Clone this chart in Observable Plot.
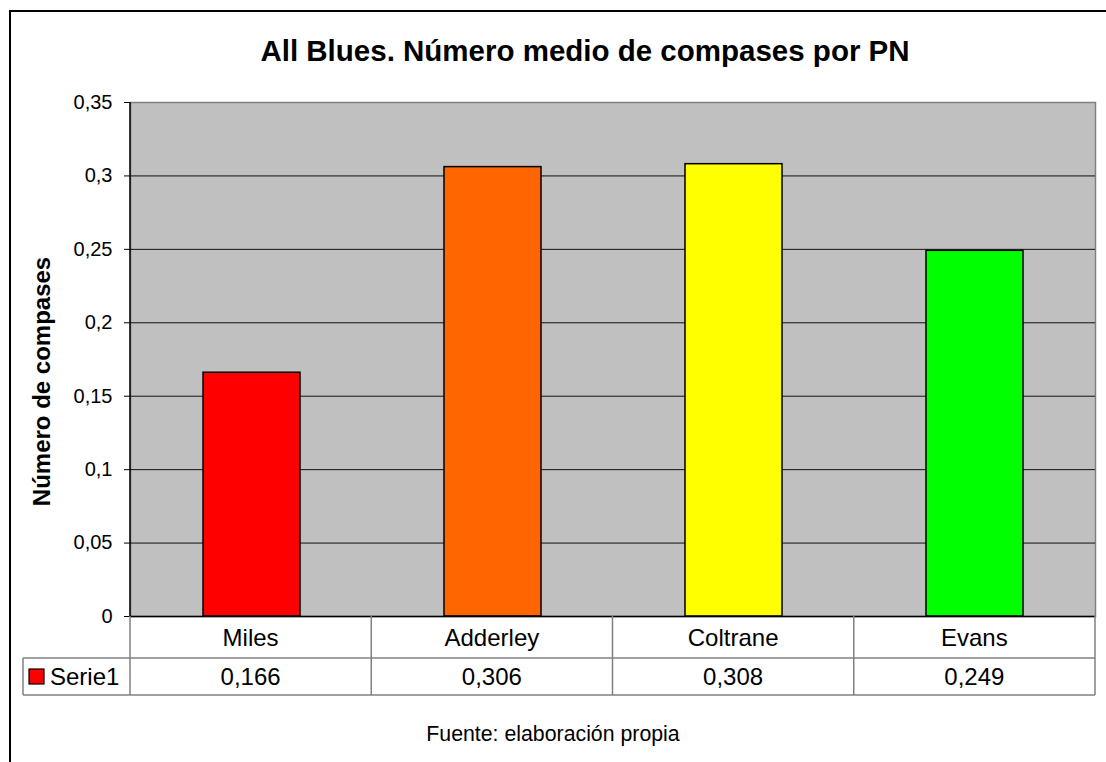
<!DOCTYPE html>
<html><head><meta charset="utf-8">
<script src="https://cdn.jsdelivr.net/npm/d3@7"></script>
<script src="https://cdn.jsdelivr.net/npm/@observablehq/plot@0.6"></script>
<style>
body{margin:0;background:#fff;font-family:Arial,"Liberation Sans",sans-serif;}
#wrap{position:relative;width:1106px;height:762px;overflow:hidden;background:#fff;}
#frame{position:absolute;left:9px;top:10px;width:1200px;height:900px;border-left:2px solid #000;border-top:2px solid #000;}
#title{position:absolute;top:34px;left:0;width:1170px;text-align:center;font-weight:bold;font-size:29.5px;line-height:34px;color:#000;}
#caption{position:absolute;top:722px;left:0;width:1106px;text-align:center;font-size:21.3px;line-height:24px;color:#000;}
#chart{position:absolute;left:0;top:0;}
</style>
</head><body>
<div id="wrap">
  <div id="frame"></div>
  <div id="chart"></div>
  <div id="title"></div>
  <div id="caption"></div>
</div>
<script>
const titleText = "All Blues. Número medio de compases por PN";
const yLabel = "Número de compases";
const captionText = "Fuente: elaboración propia";
const seriesName = "Serie1";
const categories = ["Miles", "Adderley", "Coltrane", "Evans"];
const values = [0.166, 0.306, 0.308, 0.249];
const valueLabels = ["0,166", "0,306", "0,308", "0,249"];
const barColors = ["#FF0000", "#FF6600", "#FFFF00", "#00FF00"];
const yTicks = [0, 0.05, 0.1, 0.15, 0.2, 0.25, 0.3, 0.35];
const yTickLabels = ["0", "0,05", "0,1", "0,15", "0,2", "0,25", "0,3", "0,35"];

document.getElementById("title").textContent = titleText;
document.getElementById("caption").textContent = captionText;

const data = categories.map((c, i) => ({category: c, value: values[i], color: barColors[i]}));

const chart = Plot.plot({
  width: 1106,
  height: 762,
  marginLeft: 130,
  marginRight: 11,
  marginTop: 102,
  marginBottom: 146,
  style: {background: "transparent", fontFamily: "Arial, 'Liberation Sans', sans-serif", fontSize: "20px", color: "#000", overflow: "visible"},
  x: {domain: categories, padding: 0, axis: null},
  y: {domain: [0, 0.35], ticks: yTicks, tickFormat: d => yTickLabels[yTicks.indexOf(d)], tickSize: 6, tickPadding: 12, label: null},
  color: {type: "identity"},
  marks: [
    Plot.frame({fill: "#C0C0C0", stroke: "#808080", strokeWidth: 1.5}),
    Plot.ruleY(yTicks.slice(1, -1), {stroke: "#111", strokeWidth: 1}),
    Plot.barY(data, {x: "category", y: "value", fill: "color", stroke: "#000", strokeWidth: 1.5, insetLeft: 72, insetRight: 72}),
    Plot.ruleY([0], {stroke: "#000", strokeWidth: 1.5}),
    Plot.text([yLabel], {frameAnchor: "left", textAnchor: "middle", rotate: -90, dx: -88, dy: 22, fontWeight: "bold", fontSize: 24, fill: "#000"})
  ]
});
document.getElementById("chart").appendChild(chart);

// data table below the plot, positioned with the plot's own scales
const xs = chart.scale("x");
const ys = chart.scale("y");
const band = d3.scaleBand().domain(xs.domain).range(xs.range).padding(0);
const x0 = xs.range[0], x1 = xs.range[1];
const yBase = ys.apply(0);
const yTop = ys.apply(0.35);
const row1 = yBase + 42, row2 = row1 + 37;
const legendLeft = 23;
const svg = d3.select(chart);
const g = svg.append("g").attr("font-family", "Arial, 'Liberation Sans', sans-serif");
const gray = "#808080";
// left axis line
g.append("line").attr("x1", x0).attr("x2", x0).attr("y1", yTop).attr("y2", yBase).attr("stroke", "#000").attr("stroke-width", 1.5);
// table lines
const hl = (y, xa, xb) => g.append("line").attr("x1", xa).attr("x2", xb).attr("y1", y).attr("y2", y).attr("stroke", gray).attr("stroke-width", 1.5);
const vl = (x, ya, yb) => g.append("line").attr("x1", x).attr("x2", x).attr("y1", ya).attr("y2", yb).attr("stroke", gray).attr("stroke-width", 1.5);
hl(row1, legendLeft, x1);
hl(row2, legendLeft, x1);
vl(legendLeft, row1, row2);
categories.forEach(c => vl(band(c), yBase, row2));
vl(x1, yBase, row2);
// category labels and values
categories.forEach((c, i) => {
  const cx = band(c) + band.bandwidth() / 2;
  g.append("text").attr("x", cx).attr("y", (yBase + row1) / 2).attr("dy", "0.36em").attr("text-anchor", "middle").attr("font-size", 24).attr("fill", "#000").text(c);
  g.append("text").attr("x", cx).attr("y", (row1 + row2) / 2).attr("dy", "0.36em").attr("text-anchor", "middle").attr("font-size", 24).attr("fill", "#000").text(valueLabels[i]);
});
// legend key
g.append("rect").attr("x", legendLeft + 6).attr("y", (row1 + row2) / 2 - 7.5).attr("width", 15).attr("height", 15).attr("fill", barColors[0]).attr("stroke", "#000").attr("stroke-width", 1.2);
g.append("text").attr("x", legendLeft + 27).attr("y", (row1 + row2) / 2).attr("dy", "0.36em").attr("text-anchor", "start").attr("font-size", 24).attr("fill", "#000").text(seriesName);
</script>
</body></html>
